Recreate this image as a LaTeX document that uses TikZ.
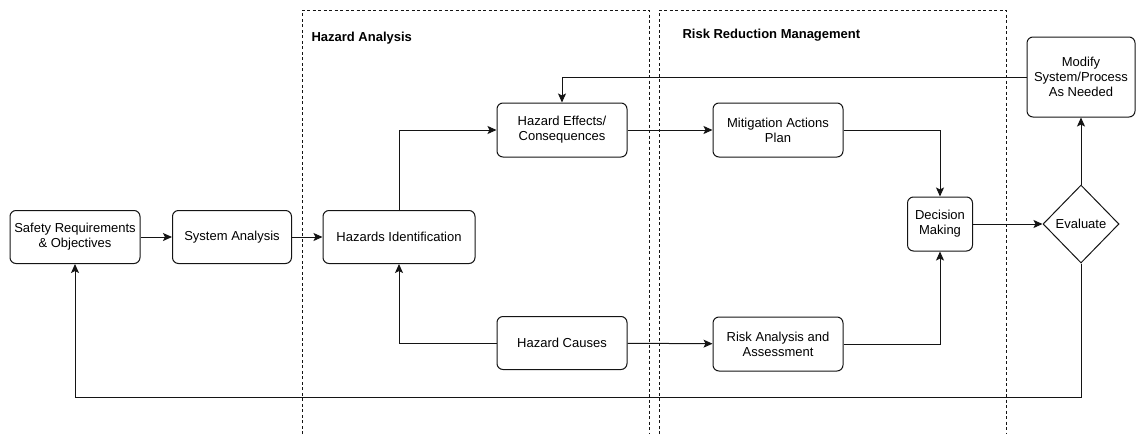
\documentclass[tikz,border=0pt]{standalone}
\usepackage{fontspec}
\setmainfont{Liberation Sans}
\definecolor{ink}{RGB}{20,20,20}
\usetikzlibrary{arrows.meta,positioning,shapes.geometric}

\begin{document}
\begin{tikzpicture}[x=1pt,y=-1pt,
    box/.style={draw=ink,line width=1pt,rounded corners=6pt,align=center,font=\fontsize{13}{15}\selectfont,inner sep=2pt},
    region/.style={draw=ink,line width=0.7pt,dash pattern=on 3pt off 2.5pt},
    link/.style={draw=ink,line width=1pt,-{Stealth[length=9pt,width=8pt,inset=2pt]}},
    title/.style={font=\bfseries\fontsize{13}{15}\selectfont,anchor=west}]
  \useasboundingbox (0,0) rectangle (1138,434);

  % dashed regions
  \draw[region] (302,434) -- (302,10) -- (649,10) -- (649,434);
  \draw[region] (659,434) -- (659,10) -- (1006,10) -- (1006,434);
  \node[title] (hatitle) at (308,38) {Hazard Analysis};
  \node[title] (rrtitle) at (679,35) {Risk Reduction Management};

  % boxes
  \node[box,minimum width=130pt,minimum height=53pt] (safety) at (75,237) {Safety Requirements\\\& Objectives};
  \node[box,minimum width=119pt,minimum height=53pt] (sysan) at (232,237) {System Analysis};
  \node[box,minimum width=152pt,minimum height=53pt] (hazid) at (399,237) {Hazards Identification};
  \node[box,minimum width=130pt,minimum height=54pt] (effects) at (562,130) {Hazard Effects/\\Consequences};
  \node[box,minimum width=130pt,minimum height=53pt] (causes) at (562,343) {Hazard Causes};
  \node[box,minimum width=130pt,minimum height=54pt] (mitig) at (778,130) {Mitigation Actions\\Plan};
  \node[box,minimum width=130pt,minimum height=54pt] (riskan) at (778,344) {Risk Analysis and\\Assessment};
  \node[box,minimum width=65pt,minimum height=54pt] (decide) at (940,224) {Decision\\Making};
  \node[box,minimum width=108pt,minimum height=80pt] (modify) at (1081,77) {Modify\\System/Process\\As Needed};
  \node[draw=ink,line width=1pt,diamond,aspect=1,inner sep=0pt,minimum width=76pt,minimum height=78pt,font=\fontsize{13}{15}\selectfont] (evaluate) at (1081,224) {Evaluate};
  \coordinate (back) at (1081,397);

  % connectors
  \draw[link] (safety) -- (sysan);
  \draw[link] (sysan) -- (hazid);
  \draw[link] (hazid.north) |- (effects.west);
  \draw[link] (causes.west) -| (hazid.south);
  \draw[link] (effects) -- (mitig);
  \draw[link] (causes) -- (riskan);
  \draw[link] (mitig.east) -| (decide.north);
  \draw[link] (riskan.east) -| (decide.south);
  \draw[link] (decide) -- (evaluate);
  \draw[link] (evaluate.north) -- (modify.south);
  \draw[link] (modify.west) -| (effects.north);
  \draw[link] (evaluate.south) -- (back) -| (safety.south);
\end{tikzpicture}
\end{document}
